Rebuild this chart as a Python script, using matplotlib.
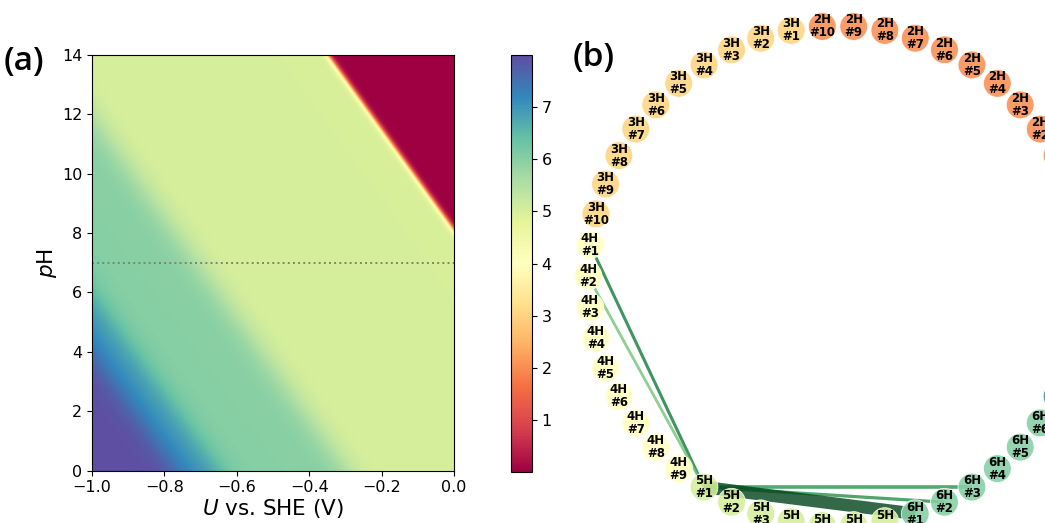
import numpy as np
import matplotlib
matplotlib.use("Agg")
import matplotlib.pyplot as plt
from matplotlib import colors as mcolors

# ---------------- panel (a) data ----------------
n_H_states = [8, 7, 6, 5, 0]                      # number of adsorbed H of each regime
transition_U_RHE = [-0.765, -0.645, -0.295, 0.48]  # V vs RHE, between consecutive states
kT = 0.0257                                       # eV
nernst_slope = 0.0591                             # V per pH
U_range = [-1.0, 0.0]
pH_range = [0.0, 14.0]
pH_line = 7
x_ticks = [-1.0, -0.8, -0.6, -0.4, -0.2, 0.0]
y_ticks = [0, 2, 4, 6, 8, 10, 12, 14]
cbar_ticks = [1, 2, 3, 4, 5, 6, 7]
c_vmin, c_vmax = 0.0, 8.0

# ---------------- panel (b) data ----------------
group_names = ["1H", "2H", "3H", "4H", "5H", "6H", "7H"]
group_nH = [1, 2, 3, 4, 5, 6, 7]
group_counts = [4, 10, 10, 9, 7, 6, 4]
edge_src = ["4H #1", "4H #2", "5H #1", "5H #1", "5H #1"]
edge_dst = ["5H #1", "5H #1", "6H #3", "6H #2", "6H #1"]
edge_weight = [0.82, 0.5, 0.72, 0.74, 1.0]
edge_width = [2.2, 2.0, 2.6, 2.3, 9.0]

# ---------------- figure ----------------
fig = plt.figure(figsize=(10.45, 5.23), dpi=100)

# panel (a)
ax = fig.add_axes([92 / 1045, 1 - 470.7 / 523, 362 / 1045, 416 / 523])
U = np.linspace(U_range[0], U_range[1], 600)
pH = np.linspace(pH_range[0], pH_range[1], 600)
UU, PP = np.meshgrid(U, pH)
U_RHE = UU + nernst_slope * PP

G0 = [0.0]
for i, ut in enumerate(transition_U_RHE):
    G0.append(G0[-1] + (n_H_states[i] - n_H_states[i + 1]) * ut)
G = np.stack([g + n * U_RHE for g, n in zip(G0, n_H_states)])
Gmin = G.min(axis=0)
w = np.exp(-(G - Gmin) / kT)
nbar = (w * np.array(n_H_states)[:, None, None]).sum(axis=0) / w.sum(axis=0)

im = ax.imshow(nbar, origin="lower", extent=[U_range[0], U_range[1], pH_range[0], pH_range[1]],
               aspect="auto", cmap="Spectral", vmin=c_vmin, vmax=c_vmax, interpolation="bilinear")
ax.axhline(pH_line, color="gray", linestyle=":", linewidth=1.4)
ax.set_xlim(U_range)
ax.set_ylim(pH_range)
ax.set_xticks(x_ticks)
ax.set_yticks(y_ticks)
ax.tick_params(labelsize=11.5)
ax.set_xlabel(r"$U$ vs. SHE (V)", fontsize=15.5, labelpad=1)
ax.set_ylabel(r"$p$H", fontsize=15.5, labelpad=2)

cax = fig.add_axes([510.7 / 1045, 1 - 472 / 523, 21 / 1045, 417 / 523])
cb = fig.colorbar(im, cax=cax, ticks=cbar_ticks)
cb.ax.tick_params(labelsize=11.5)

fig.text(0.003, 0.882, "(a)", fontsize=24, ha="left", va="center",
         family=["Open Sans", "DejaVu Sans"], fontweight="semibold")
fig.text(0.548, 0.89, "(b)", fontsize=24, ha="left", va="center",
         family=["Open Sans", "DejaVu Sans"], fontweight="semibold")

# panel (b)
ax2 = fig.add_axes([538 / 1045, -53 / 523, 600 / 1045, 600 / 523])
ax2.set_xlim(-1.2, 1.2)
ax2.set_ylim(-1.2, 1.2)
ax2.set_aspect("equal")
ax2.axis("off")

labels, nH_of_node = [], []
for name, nh, cnt in zip(group_names, group_nH, group_counts):
    for i in range(cnt):
        labels.append(f"{name} #{i + 1}")
        nH_of_node.append(nh)
N = len(labels)
theta = 2 * np.pi * np.arange(N) / N
pos = {lab: (np.cos(t), np.sin(t)) for lab, t in zip(labels, theta)}

norm = mcolors.Normalize(vmin=c_vmin, vmax=c_vmax)
spectral = plt.get_cmap("Spectral")
greens = plt.get_cmap("Greens")

for s, d, wgt, lw in zip(edge_src, edge_dst, edge_weight, edge_width):
    (x0, y0), (x1, y1) = pos[s], pos[d]
    ax2.plot([x0, x1], [y0, y1], color=greens(wgt), alpha=0.8, linewidth=lw,
             solid_capstyle="butt", zorder=1)

xs = [pos[l][0] for l in labels]
ys = [pos[l][1] for l in labels]
ax2.scatter(xs, ys, s=400, c=[spectral(norm(n)) for n in nH_of_node], alpha=0.88,
            edgecolors="white", linewidths=0.6, zorder=2)
for lab in labels:
    x, y = pos[lab]
    if x > 0.85:   # outside the visible (cropped) area of the figure
        continue
    name, num = lab.split(" ")
    ax2.text(x, y, f"{name}\n{num}", ha="center", va="center",
             fontsize=8.5, fontweight="bold", linespacing=1.0, zorder=3)

fig.savefig("out.png", dpi=100)
